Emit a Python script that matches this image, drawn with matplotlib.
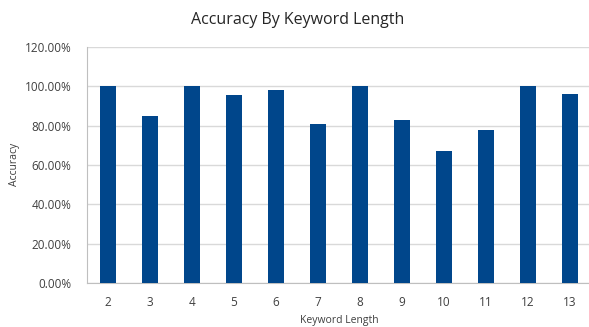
import matplotlib
matplotlib.use("Agg")
import matplotlib.pyplot as plt
from matplotlib.ticker import FuncFormatter

categories = ["2", "3", "4", "5", "6", "7", "8", "9", "10", "11", "12", "13"]
accuracy = [100.0, 85.1, 100.0, 95.7, 98.1, 80.9, 100.0, 82.8, 67.0, 77.9, 100.0, 96.2]
y_ticks = [0, 20, 40, 60, 80, 100, 120]

W, H = 589, 327
fig = plt.figure(figsize=(W / 100, H / 100), dpi=100)
fig.patch.set_facecolor("white")
plt.rcParams["font.family"] = ["Open Sans", "DejaVu Sans"]

left, right, top, bottom = 87, 591, 47, 283
ax = fig.add_axes([left / W, 1 - bottom / H, (right - left) / W, (bottom - top) / H])

x = range(len(categories))
ax.bar(x, accuracy, width=0.4, color="#00468b", zorder=3)
ax.set_xlim(-0.5, len(categories) - 0.5)
ax.set_ylim(0, 120)
ax.set_yticks(y_ticks)
ax.yaxis.set_major_formatter(FuncFormatter(lambda v, p: f"{v:.2f}%"))
ax.set_xticks(list(x))
ax.set_xticklabels(categories)

ax.grid(axis="y", color="#d9d9d9", linewidth=1, zorder=0)
for s in ["top", "right"]:
    ax.spines[s].set_visible(False)
ax.spines["left"].set_color("#bfbfbf")
ax.spines["bottom"].set_color("#bfbfbf")
ax.tick_params(axis="both", length=0, colors="#404040", labelsize=8.5)
ax.tick_params(axis="y", pad=11)
ax.tick_params(axis="x", pad=9)

fig.text(298 / W, 1 - 20 / H, "Accuracy By Keyword Length", ha="center", va="center",
         fontsize=11.5, color="#262626")
fig.text(339 / W, 1 - 320 / H, "Keyword Length", ha="center", va="center",
         fontsize=7.5, color="#404040")
fig.text(15 / W, 1 - 164 / H, "Accuracy", ha="center", va="center", rotation=90,
         fontsize=7.5, color="#404040")

fig.savefig("out.png", dpi=100)
